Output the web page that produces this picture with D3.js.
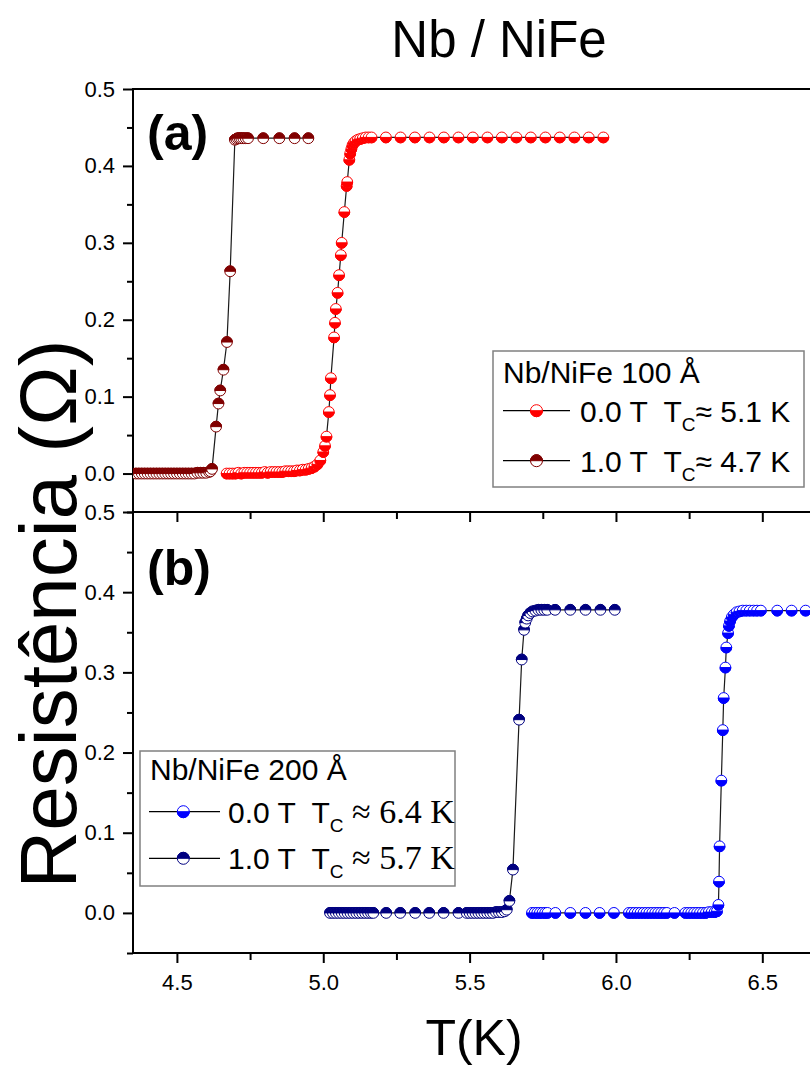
<!DOCTYPE html>
<html>
<head>
<meta charset="utf-8">
<script src="https://cdn.jsdelivr.net/npm/d3@7"></script>
<style>
  html, body { margin: 0; padding: 0; background: #fff; }
  svg { display: block; font-family: Arial, "Liberation Sans", sans-serif; }
  text { white-space: pre; }
</style>
</head>
<body>
<svg id="chart" width="810" height="1065"></svg>
<script>
// ---------- data ----------
const xMajorTicks = [4.5, 5.0, 5.5, 6.0, 6.5];
const xMinorTicks = [4.75, 5.25, 5.75, 6.25];
const yMajorTicks = [0.0, 0.1, 0.2, 0.3, 0.4, 0.5];
const yMinorTicks = [-0.05, 0.05, 0.15, 0.25, 0.35, 0.45];

// Panel (a): Nb/NiFe 100 Å, 0.0 T
const a0T = [4.67,4.68,4.69,4.70,4.71,4.72,4.73,4.74,4.75,4.76,4.77,4.78,4.79,4.80,4.81,4.82,4.83,4.84,4.85,4.86,4.87,4.88,4.89,4.90,4.91,4.92,4.93,4.94,4.95,4.96,4.97,4.98,4.99,
  5.000,5.006,5.011,5.019,5.023,5.026,5.037,5.040,5.043,5.049,5.054,5.060,5.063,5.072,5.080,5.082,5.089,5.092,5.096,5.100,5.105,5.110,5.118,5.126,5.135,5.145,5.155,
  5.165,5.214,5.264,5.313,5.363,5.412,5.462,5.511,5.561,5.610,5.660,5.709,5.759,5.808,5.858,5.907,5.957];
const a0R = [0.000,0.000,0.000,0.000,0.001,0.000,0.001,0.001,0.001,0.001,0.001,0.001,0.001,0.002,0.001,0.002,0.002,0.002,0.002,0.002,0.003,0.003,0.003,0.003,0.004,0.004,0.005,0.005,0.006,0.007,0.009,0.012,0.017,
  0.028,0.036,0.048,0.080,0.102,0.124,0.177,0.196,0.214,0.235,0.258,0.284,0.300,0.340,0.374,0.379,0.408,0.416,0.422,0.427,0.430,0.432,0.434,0.435,0.436,0.437,0.437,
  0.437,0.437,0.437,0.437,0.437,0.437,0.437,0.437,0.437,0.437,0.437,0.437,0.437,0.437,0.437,0.437,0.437];

// Panel (a): Nb/NiFe 100 Å, 1.0 T
const a1T = [4.36,4.37,4.38,4.39,4.40,4.41,4.42,4.43,4.44,4.45,4.46,4.47,4.48,4.49,4.50,4.51,4.52,4.53,4.54,4.55,4.56,4.57,4.58,4.59,4.60,4.61,
  4.615,4.620,4.634,4.642,4.648,4.659,4.671,4.682,4.698,4.703,4.708,4.714,4.720,4.727,4.735,4.743,4.795,4.850,4.902,4.949];
const a1R = [0.000,0.000,0.000,0.000,0.000,0.000,0.000,0.000,0.000,0.000,0.000,0.000,0.000,0.000,0.000,0.000,0.000,0.000,0.000,0.000,0.000,0.001,0.001,0.001,0.001,0.002,
  0.003,0.006,0.061,0.091,0.108,0.135,0.171,0.263,0.434,0.435,0.436,0.436,0.436,0.436,0.436,0.436,0.436,0.436,0.436,0.436];

// Panel (b): Nb/NiFe 200 Å, 0.0 T
const b0T = [5.713,5.722,5.731,5.740,5.749,5.758,5.766,5.793,5.844,5.896,5.944,5.993,
  6.044,6.054,6.064,6.074,6.084,6.094,6.104,6.114,6.124,6.134,6.144,6.154,6.164,6.174,6.200,
  6.237,6.247,6.257,6.267,6.277,6.287,6.297,6.307,6.317,6.327,6.337,6.345,
  6.350,6.352,6.354,6.360,6.365,6.368,6.374,6.377,6.383,6.386,6.390,6.396,6.403,6.412,6.422,6.433,6.445,6.457,6.470,6.482,6.495,
  6.551,6.600,6.648,6.697];
const b0R = [0.000,0.000,0.000,0.000,0.000,0.000,0.000,0.000,0.000,0.000,0.000,0.000,
  0.000,0.000,0.000,0.000,0.000,0.000,0.000,0.000,0.000,0.000,0.000,0.000,0.000,0.000,0.000,
  0.000,0.000,0.000,0.000,0.000,0.000,0.000,0.000,0.001,0.001,0.001,0.002,
  0.010,0.039,0.083,0.165,0.228,0.268,0.306,0.331,0.349,0.358,0.364,0.369,0.372,0.375,0.376,0.377,0.377,0.377,0.377,0.377,0.377,
  0.377,0.377,0.377,0.377];

// Panel (b): Nb/NiFe 200 Å, 1.0 T
const b1T = [5.023,5.033,5.043,5.053,5.063,5.073,5.083,5.093,5.103,5.113,5.123,5.133,5.143,5.153,5.163,5.171,
  5.215,5.263,5.314,5.362,5.411,5.462,
  5.490,5.500,5.510,5.520,5.530,5.540,5.550,5.560,5.570,5.580,5.590,5.600,5.610,5.620,
  5.627,5.636,5.648,5.669,5.678,5.686,5.690,5.695,5.700,5.707,5.715,5.725,5.735,5.745,5.755,5.765,
  5.792,5.844,5.896,5.947,5.996];
const b1R = [0.000,0.000,0.000,0.000,0.000,0.000,0.000,0.000,0.000,0.000,0.000,0.000,0.000,0.000,0.000,0.000,
  0.000,0.000,0.000,0.000,0.000,0.000,
  0.000,0.000,0.000,0.000,0.000,0.000,0.000,0.000,0.000,0.000,0.001,0.001,0.001,0.002,
  0.004,0.015,0.054,0.241,0.316,0.353,0.362,0.367,0.371,0.374,0.376,0.377,0.378,0.378,0.378,0.378,
  0.378,0.378,0.378,0.378,0.378];

const colRed = "#ff0000", colDarkRed = "#800000", colBlue = "#0000ff", colNavy = "#000080";

// ---------- layout ----------
const svg = d3.select("#chart");
const L = 133, R = 815;
const x = d3.scaleLinear().domain([4.35, 6.68]).range([L, R]);
const yA = d3.scaleLinear().domain([-0.05, 0.5]).range([512, 89]);
const yB = d3.scaleLinear().domain([-0.05, 0.5]).range([953, 512]);

const defs = svg.append("defs");
defs.append("clipPath").attr("id", "clipA").append("rect").attr("x", L).attr("y", 89).attr("width", R - L).attr("height", 512 - 89);
defs.append("clipPath").attr("id", "clipB").append("rect").attr("x", L).attr("y", 512).attr("width", R - L).attr("height", 953 - 512);

function styleAxis(g) {
  g.select(".domain").remove();
  g.selectAll(".tick line").attr("stroke", "#000").attr("stroke-width", 2);
  g.selectAll(".tick text").attr("font-size", 22).attr("fill", "#000").attr("font-family", "Arial, 'Liberation Sans', sans-serif");
}

// y axes
[yA, yB].forEach(y => {
  svg.append("g").attr("transform", `translate(${L},0)`)
    .call(d3.axisLeft(y).tickValues(yMajorTicks).tickSize(10).tickPadding(8).tickFormat(d3.format(".1f")))
    .call(styleAxis);
  svg.append("g").attr("transform", `translate(${L},0)`)
    .call(d3.axisLeft(y).tickValues(yMinorTicks).tickSize(6).tickFormat(""))
    .call(styleAxis);
});

// x axes: panel (a) bottom (no labels), panel (b) bottom (labels)
svg.append("g").attr("transform", `translate(0,512)`)
  .call(d3.axisBottom(x).tickValues(xMajorTicks).tickSize(10).tickFormat(""))
  .call(styleAxis);
svg.append("g").attr("transform", `translate(0,512)`)
  .call(d3.axisBottom(x).tickValues(xMinorTicks).tickSize(7).tickFormat(""))
  .call(styleAxis);
svg.append("g").attr("transform", `translate(0,953)`)
  .call(d3.axisBottom(x).tickValues(xMajorTicks).tickSize(10).tickPadding(11).tickFormat(d3.format(".1f")))
  .call(styleAxis);
svg.append("g").attr("transform", `translate(0,953)`)
  .call(d3.axisBottom(x).tickValues(xMinorTicks).tickSize(7).tickFormat(""))
  .call(styleAxis);

// frames
const frame = svg.append("g").attr("stroke", "#000").attr("stroke-width", 2).attr("fill", "none");
frame.append("line").attr("x1", L).attr("x2", R + 10).attr("y1", 89).attr("y2", 89);
frame.append("line").attr("x1", L).attr("x2", R + 10).attr("y1", 512).attr("y2", 512);
frame.append("line").attr("x1", L).attr("x2", R + 10).attr("y1", 953).attr("y2", 953);
frame.append("line").attr("x1", L).attr("x2", L).attr("y1", 88).attr("y2", 954);

// ---------- series ----------
const MR = 5.4;
function halfPath(r, top) {
  return top ? `M${-r},0A${r},${r} 0 0 1 ${r},0Z` : `M${-r},0A${r},${r} 0 0 0 ${r},0Z`;
}
function marker(g, color, topFilled, r) {
  g.append("circle").attr("r", r).attr("fill", "#fff").attr("stroke", color).attr("stroke-width", 1);
  g.append("path").attr("d", halfPath(r, topFilled)).attr("fill", color).attr("stroke", color).attr("stroke-width", 1);
}
function drawSeries(Ts, Rs, y, clip, color, topFilled) {
  const pts = Ts.map((t, i) => [t, Rs[i]]);
  const g = svg.append("g").attr("clip-path", `url(#${clip})`);
  g.append("path").datum(pts)
    .attr("d", d3.line().x(d => x(d[0])).y(d => y(d[1])))
    .attr("fill", "none").attr("stroke", "#1a1a1a").attr("stroke-width", 1.2);
  g.selectAll("g.m").data(pts).join("g").attr("class", "m")
    .attr("transform", d => `translate(${x(d[0])},${y(d[1])})`)
    .each(function () { marker(d3.select(this), color, topFilled, MR); });
}
drawSeries(a1T, a1R, yA, "clipA", colDarkRed, true);
drawSeries(a0T, a0R, yA, "clipA", colRed, false);
drawSeries(b1T, b1R, yB, "clipB", colNavy, true);
drawSeries(b0T, b0R, yB, "clipB", colBlue, false);

// ---------- texts ----------
svg.append("text").attr("x", 499).attr("y", 57).attr("text-anchor", "middle")
  .attr("font-size", 51).text("Nb / NiFe");
svg.append("text").attr("transform", "translate(76,614) rotate(-90)").attr("text-anchor", "middle")
  .attr("font-size", 80).text("Resistência (Ω)");
svg.append("text").attr("x", 474).attr("y", 1055).attr("text-anchor", "middle")
  .attr("font-size", 50).text("T(K)");
svg.append("text").attr("x", 147).attr("y", 150).attr("font-size", 50).attr("font-weight", "bold").text("(a)");
svg.append("text").attr("x", 147).attr("y", 585).attr("font-size", 50).attr("font-weight", "bold").text("(b)");

// ---------- legends ----------
function legend(box, title, rows) {
  const g = svg.append("g");
  g.append("rect").attr("x", box[0]).attr("y", box[1]).attr("width", box[2] - box[0]).attr("height", box[3] - box[1])
    .attr("fill", "#fff").attr("stroke", "#808080").attr("stroke-width", 1.5);
  g.append("text").attr("x", title.x).attr("y", title.y).attr("font-size", 30).text(title.text);
  rows.forEach(r => {
    g.append("line").attr("x1", r.lx1).attr("x2", r.lx2).attr("y1", r.cy).attr("y2", r.cy).attr("stroke", "#000").attr("stroke-width", 1.2);
    const m = g.append("g").attr("transform", `translate(${r.mx},${r.cy})`);
    marker(m, r.color, r.top, 6);
    const t = g.append("text").attr("x", r.tx).attr("y", r.cy + 11).attr("font-size", 30);
    t.append("tspan").text(r.label + "  T");
    t.append("tspan").attr("font-size", 19).attr("dy", 9).text("C");
    if (r.serif) {
      t.append("tspan").attr("dy", -9).attr("font-size", 34)
        .attr("font-family", "'Liberation Serif', 'Times New Roman', serif").text(" ≈ " + r.tc);
    } else {
      t.append("tspan").attr("dy", -9).text("≈ " + r.tc);
    }
  });
}
legend([493, 351, 804, 487], { x: 503, y: 383, text: "Nb/NiFe 100 Å" }, [
  { cy: 410.7, lx1: 503, lx2: 570, mx: 536.5, tx: 580, color: colRed, top: false, label: "0.0 T", tc: "5.1 K", serif: false },
  { cy: 460.7, lx1: 503, lx2: 570, mx: 536.5, tx: 580, color: colDarkRed, top: true, label: "1.0 T", tc: "4.7 K", serif: false }
]);
legend([140, 751, 455, 886], { x: 150, y: 780, text: "Nb/NiFe 200 Å" }, [
  { cy: 811.7, lx1: 149, lx2: 220, mx: 183.3, tx: 228, color: colBlue, top: false, label: "0.0 T", tc: "6.4 K", serif: true },
  { cy: 858.3, lx1: 149, lx2: 220, mx: 183.3, tx: 228, color: colNavy, top: true, label: "1.0 T", tc: "5.7 K", serif: true }
]);
</script>
</body>
</html>
